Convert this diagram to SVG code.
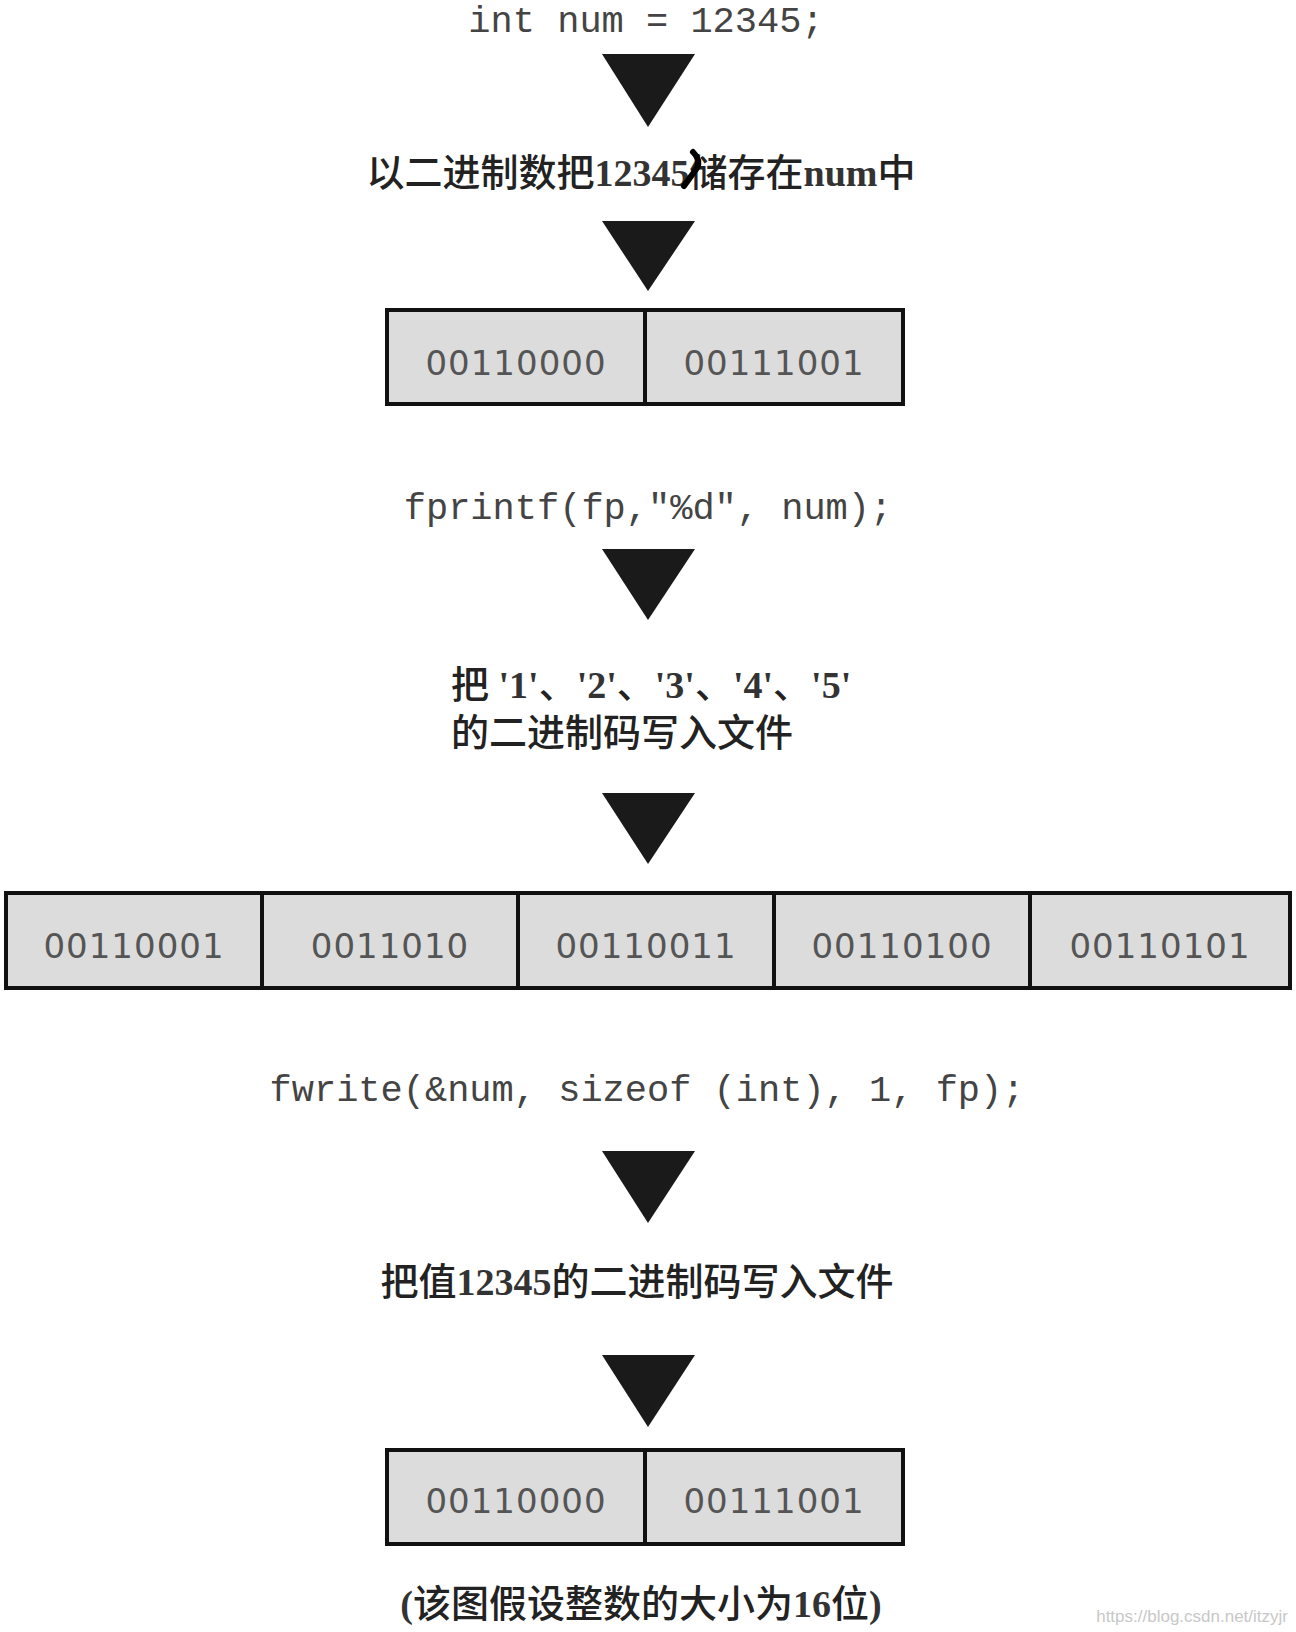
<svg xmlns="http://www.w3.org/2000/svg" width="1296" height="1632" viewBox="0 0 1296 1632">
<style>
.code{font-family:"Liberation Mono","DejaVu Sans Mono",monospace;font-size:37px;fill:#444;text-anchor:middle}
.cjk{font-family:"Liberation Serif","Noto Sans CJK SC",serif;font-size:38px;fill:#222;font-weight:500}
.lat{font-weight:bold;fill:#333}
.bits{font-family:"DejaVu Sans","Liberation Sans",sans-serif;font-size:34px;fill:#555;text-anchor:middle;letter-spacing:1px}
.cell{fill:#dcdcdc;stroke:#111;stroke-width:4}
.arrow{fill:#1a1a1a}
</style>
<rect width="1296" height="1632" fill="#fff"/>

<g id="connectors">
<polygon class="arrow" points="602,54 695,54 648,127"/>
<polygon class="arrow" points="602,221 695,221 648,291"/>
<polygon class="arrow" points="602,549 695,549 648,620"/>
<polygon class="arrow" points="602,793 695,793 648,864"/>
<polygon class="arrow" points="602,1151 695,1151 648,1223"/>
<polygon class="arrow" points="602,1355 695,1355 648,1427"/>
</g>

<g id="n-decl"><text class="code" x="646" y="32">int num = 12345;</text></g>

<g id="n-store">
<text class="cjk" x="641" y="186" text-anchor="middle">以二进制数把<tspan class="lat">12345</tspan>储存在<tspan class="lat">num</tspan>中</text>
<path d="M684,186 L697,168 Q701,160 693,152" fill="none" stroke="#000" stroke-width="6" stroke-linecap="round"/>
</g>

<g id="n-box1">
<rect class="cell" x="387" y="310" width="258" height="94"/>
<rect class="cell" x="645" y="310" width="258" height="94"/>
<text class="bits" x="516" y="375">00110000</text>
<text class="bits" x="774" y="375">00111001</text>
</g>

<g id="n-fprintf"><text class="code" x="648" y="519">fprintf(fp,"%d", num);</text></g>

<g id="n-chars">
<text class="cjk" x="451" y="698">把<tspan class="lat"> '1'</tspan>、<tspan class="lat">'2'</tspan>、<tspan class="lat">'3'</tspan>、<tspan class="lat">'4'</tspan>、<tspan class="lat">'5'</tspan></text>
<text class="cjk" x="451" y="746">的二进制码写入文件</text>
</g>

<g id="n-box2">
<rect class="cell" x="6" y="893" width="256" height="95"/>
<rect class="cell" x="262" y="893" width="256" height="95"/>
<rect class="cell" x="518" y="893" width="256" height="95"/>
<rect class="cell" x="774" y="893" width="256" height="95"/>
<rect class="cell" x="1030" y="893" width="260" height="95"/>
<text class="bits" x="134" y="958">00110001</text>
<text class="bits" x="390" y="958">0011010</text>
<text class="bits" x="646" y="958">00110011</text>
<text class="bits" x="902" y="958">00110100</text>
<text class="bits" x="1160" y="958">00110101</text>
</g>

<g id="n-fwrite"><text class="code" x="647" y="1101">fwrite(&amp;num, sizeof (int), 1, fp);</text></g>

<g id="n-value"><text class="cjk" x="637" y="1295" text-anchor="middle">把值<tspan class="lat">12345</tspan>的二进制码写入文件</text></g>

<g id="n-box3">
<rect class="cell" x="387" y="1450" width="258" height="94"/>
<rect class="cell" x="645" y="1450" width="258" height="94"/>
<text class="bits" x="516" y="1513">00110000</text>
<text class="bits" x="774" y="1513">00111001</text>
</g>

<g id="n-note"><text class="cjk" x="641" y="1617" text-anchor="middle" font-size="39"><tspan class="lat">(</tspan>该图假设整数的大小为<tspan class="lat">16</tspan>位<tspan class="lat">)</tspan></text></g>

<text x="1288" y="1622" text-anchor="end" font-family="Liberation Sans Narrow,Liberation Sans,sans-serif" font-size="17" fill="#c8c8c8">https://blog.csdn.net/itzyjr</text>
</svg>
